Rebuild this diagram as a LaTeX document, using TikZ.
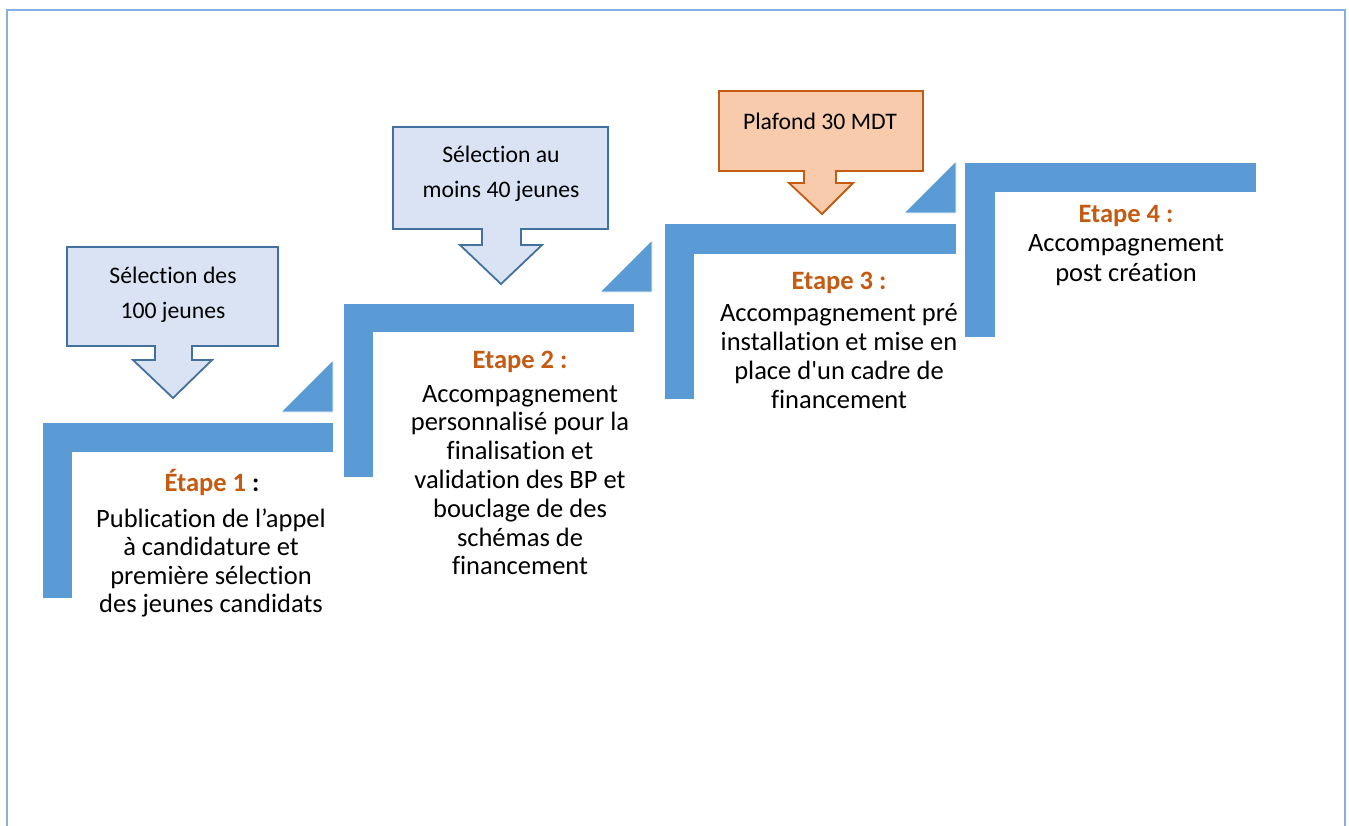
\documentclass[tikz,border=0pt]{standalone}
\usepackage{fontspec}
\setmainfont{Carlito}[RawFeature={-liga}]
\newfontfamily\nomapfont{Carlito}
\definecolor{stepblue}{HTML}{5B9BD5}
\definecolor{etape}{HTML}{C55A11}
\definecolor{cblfill}{HTML}{DAE3F3}
\definecolor{cbldraw}{HTML}{41719C}
\definecolor{corfill}{HTML}{F8CBAD}
\definecolor{cordraw}{HTML}{C55A11}
\definecolor{frame}{RGB}{135,175,228}
\tikzset{
  stepshape/.style={fill=stepblue, draw=white, line width=0.8pt},
  calloutblue/.style={fill=cblfill, draw=cbldraw, line width=1.8pt, line join=miter},
  calloutorange/.style={fill=corfill, draw=cordraw, line width=1.8pt, line join=miter},
  head/.style={font=\fontsize{26.5}{29}\selectfont\bfseries, text=etape, inner sep=0pt},
  body/.style={align=center, inner sep=0pt},
  ctext/.style={align=center, inner sep=0pt, font=\fontsize{23.7}{35}\selectfont},
}
\begin{document}
\begin{tikzpicture}[x=1pt,y=-1pt]
\useasboundingbox (0,0) rectangle (1349,825);
\fill[white] (0,0) rectangle (1349,825);
\draw[frame, line width=2pt] (6.5,826) -- (6.5,9.5) -- (1344.5,9.5) -- (1344.5,826);

% steps
\draw[stepshape] (42,422) -- (333,422) -- (333,452) -- (72,452) -- (72,598) -- (42,598) -- cycle;
\draw[stepshape] (281,412) -- (333,360) -- (333,412) -- cycle;
\draw[stepshape] (343,303) -- (634,303) -- (634,332) -- (373,332) -- (373,477) -- (343,477) -- cycle;
\draw[stepshape] (600,292) -- (652,240) -- (652,292) -- cycle;
\draw[stepshape] (664,223) -- (956,223) -- (956,254) -- (694,254) -- (694,399) -- (664,399) -- cycle;
\draw[stepshape] (904,213) -- (956,161) -- (956,213) -- cycle;
\draw[stepshape] (964,162) -- (1256,162) -- (1256,192) -- (995,192) -- (995,337) -- (964,337) -- cycle;

% callouts
\draw[calloutblue] (67,247) -- (278,247) -- (278,346) -- (192,346) -- (192,360) -- (212,360) -- (173,398) -- (133,360) -- (155,360) -- (155,346) -- (67,346) -- cycle;
\draw[calloutblue] (393,127) -- (608,127) -- (608,229) -- (521,229) -- (521,245) -- (542,245) -- (501,284) -- (460,245) -- (482,245) -- (482,229) -- (393,229) -- cycle;
\draw[calloutorange] (719,91) -- (923,91) -- (923,171) -- (836,171) -- (836,183) -- (853,183) -- (822,214) -- (789,183) -- (804,183) -- (804,171) -- (719,171) -- cycle;

\node[ctext] (c1) at (173,295) {Sélection des\\100 jeunes};
\node[ctext] (c2) at (501,174) {Sélection au\\moins 40 jeunes};
\node[ctext] (c3) at (820,121) {Plafond 30 MDT};

% texts
\node[head] (h1) at (212,482) {Étape 1 \textcolor{black}{:}};
\node[body, font=\fontsize{26.5}{28.3}\selectfont] (b1) at (211,563) {Publication de l’appel\\à candidature et\\première sélection\\des jeunes candidats};
\node[head] (h2) at (520,362) {Etape 2 :};
\node[body, font=\fontsize{26.5}{28.8}\selectfont] (b2) at (520,480) {Accompagnement\\personnalisé pour la\\finalisation et\\validation des BP et\\bouclage de des\\schémas de\\financement};
\node[head] (h3) at (839,283) {Etape 3 :};
\node[body, font=\fontsize{26.5}{29.3}\selectfont] (b3) at (839,356) {Accompagnement pré\\installation et mise en\\place d{\nomapfont '}un cadre de\\financement};
\node[head] (h4) at (1126,216) {Etape 4 :};
\node[body, font=\fontsize{26.5}{29.5}\selectfont] (b4) at (1126,260) {Accompagnement\\post création};
\end{tikzpicture}
\end{document}
